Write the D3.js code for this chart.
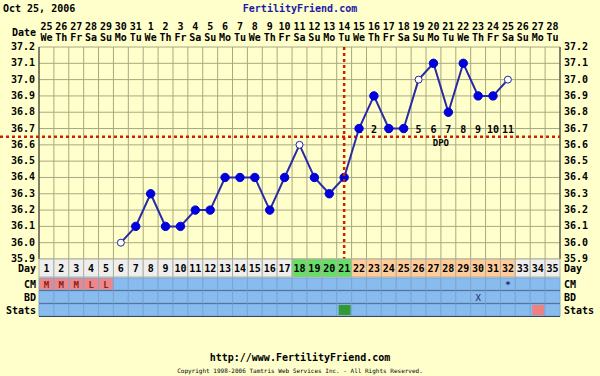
<!DOCTYPE html>
<html>
<head>
<meta charset="utf-8">
<script src="https://cdn.jsdelivr.net/npm/d3@7"></script>
<style>
  body { margin: 0; background: #ffffcc; }
  text { font-family: "DejaVu Sans Mono", monospace; font-weight: bold; }
</style>
</head>
<body>
<div id="chart"></div>
<script>
// chart values
var cycleDays = d3.range(1, 36);
var dateLabels = ["25","26","27","28","29","30","31","1","2","3","4","5","6","7","8","9","10","11","12","13","14","15","16","17","18","19","20","21","22","23","24","25","26","27","28"];
var weekdays = ["We","Th","Fr","Sa","Su","Mo","Tu"];
var tempDays = [6,7,8,9,10,11,12,13,14,15,16,17,18,19,20,21,22,23,24,25,26,27,28,29,30,31,32];
var temps = [36.0,36.1,36.3,36.1,36.1,36.2,36.2,36.4,36.4,36.4,36.2,36.4,36.6,36.4,36.3,36.4,36.7,36.9,36.7,36.7,37.0,37.1,36.8,37.1,36.9,36.9,37.0];
var openDays = [6,18,26,32];
var yTicks = [35.9,36.0,36.1,36.2,36.3,36.4,36.5,36.6,36.7,36.8,36.9,37.0,37.1,37.2];
var coverline = 36.65;
var ovulationDay = 21;
var fertileDays = [18,19,20,21];
var lutealDays = d3.range(22, 33);
var cmValues = {1:"M",2:"M",3:"M",4:"L",5:"L",32:"*"};
var bdValues = {30:"X"};
var statsValues = {21:"#339933",34:"#f08080"};

var width = 600, height = 376;
var plotLeft = 39, plotRight = 560, plotTop = 47, plotBottom = 259;

var svg = d3.select("#chart").append("svg")
    .attr("width", width).attr("height", height)
    .style("background", "#ffffcc");

var x = d3.scaleBand().domain(cycleDays).range([plotLeft, plotRight]);
var y = d3.scaleLinear().domain([35.9, 37.2]).range([plotBottom, plotTop]);
var cx = function(d) { return x(d) + x.bandwidth() / 2; };

// header
svg.append("text").attr("x", 3).attr("y", 12).style("font-size", "10px").attr("fill", "#000")
    .text("Oct 25, 2006");
svg.append("text").attr("x", 300).attr("y", 12).attr("text-anchor", "middle")
    .style("font-size", "10px").attr("fill", "#1a1aa6").text("FertilityFriend.com");

svg.append("text").attr("x", 36).attr("y", 36).attr("text-anchor", "end")
    .style("font-size", "10px").text("Date");
svg.selectAll(".dnum").data(cycleDays).enter().append("text")
    .attr("x", cx).attr("y", 30).attr("text-anchor", "middle").style("font-size", "10px")
    .text(function(d, i) { return dateLabels[i]; });
svg.selectAll(".wday").data(cycleDays).enter().append("text")
    .attr("x", cx).attr("y", 41).attr("text-anchor", "middle").style("font-size", "10px")
    .text(function(d, i) { return weekdays[i % 7]; });

// grid
svg.selectAll(".hg").data(yTicks).enter().append("line")
    .attr("x1", plotLeft).attr("x2", plotRight)
    .attr("y1", function(d) { return y(d); }).attr("y2", function(d) { return y(d); })
    .attr("stroke", "#a8a880").attr("stroke-width", 1);
svg.selectAll(".vg").data(d3.range(0, 36)).enter().append("line")
    .attr("x1", function(d) { return plotLeft + d * x.bandwidth(); })
    .attr("x2", function(d) { return plotLeft + d * x.bandwidth(); })
    .attr("y1", plotTop).attr("y2", plotBottom)
    .attr("stroke", "#a8a880").attr("stroke-width", 1);
svg.append("line").attr("x1", plotLeft).attr("x2", plotLeft).attr("y1", plotTop).attr("y2", plotBottom).attr("stroke", "#333");
svg.append("line").attr("x1", plotRight).attr("x2", plotRight).attr("y1", plotTop).attr("y2", plotBottom).attr("stroke", "#333");

// axis labels
svg.selectAll(".yl").data(yTicks).enter().append("text")
    .attr("x", 35).attr("y", function(d) { return y(d) + 3; })
    .attr("text-anchor", "end").style("font-size", "10px")
    .text(function(d) { return d.toFixed(1); });
svg.selectAll(".yr").data(yTicks).enter().append("text")
    .attr("x", 564).attr("y", function(d) { return y(d) + 3; })
    .style("font-size", "10px")
    .text(function(d) { return d.toFixed(1); });

// coverline
svg.append("line").attr("x1", 0).attr("x2", plotRight)
    .attr("y1", y(coverline)).attr("y2", y(coverline))
    .attr("stroke", "#cc2200").attr("stroke-width", 2.5).attr("stroke-dasharray", "3,3");

// DPO labels
svg.selectAll(".dpo").data(lutealDays).enter().append("text")
    .attr("x", cx).attr("y", y(36.7) + 4).attr("text-anchor", "middle").style("font-size", "10px")
    .text(function(d, i) { return i + 1; });
svg.append("text").attr("x", x(27) + x.bandwidth()).attr("y", y(36.6) + 1)
    .attr("text-anchor", "middle").style("font-size", "9px").text("DPO");

// temperature line
var pts = tempDays.map(function(d, i) { return { day: d, t: temps[i] }; });
var line = d3.line()
    .x(function(d) { return cx(d.day); })
    .y(function(d) { return y(d.t); });
svg.append("path").datum(pts).attr("d", line)
    .attr("fill", "none").attr("stroke", "#2a2aa8").attr("stroke-width", 2);
svg.selectAll(".pt").data(pts).enter().append("circle")
    .attr("cx", function(d) { return cx(d.day); })
    .attr("cy", function(d) { return y(d.t); })
    .attr("r", function(d) { return openDays.indexOf(d.day) >= 0 ? 3.5 : 4.2; })
    .attr("fill", function(d) { return openDays.indexOf(d.day) >= 0 ? "#ffffff" : "#0000dd"; })
    .attr("stroke", function(d) { return openDays.indexOf(d.day) >= 0 ? "#2222aa" : "#0000dd"; })
    .attr("stroke-width", 1);

// ovulation line on top
svg.append("line")
    .attr("x1", cx(ovulationDay)).attr("x2", cx(ovulationDay))
    .attr("y1", plotTop).attr("y2", plotBottom)
    .attr("stroke", "#cc2200").attr("stroke-width", 2.5).attr("stroke-dasharray", "3,3");

// day row
var rowTop = 259, rowH = 18;
function dayColor(d) {
    if (fertileDays.indexOf(d) >= 0) return "#66dd66";
    if (lutealDays.indexOf(d) >= 0) return "#ffcc99";
    return "#eeeeee";
}
svg.selectAll(".dayc").data(cycleDays).enter().append("rect")
    .attr("x", function(d) { return x(d); }).attr("y", rowTop)
    .attr("width", x.bandwidth()).attr("height", rowH)
    .attr("fill", dayColor).attr("stroke", "#b0b0a0").attr("stroke-width", 1);
svg.selectAll(".dayt").data(cycleDays).enter().append("text")
    .attr("x", cx).attr("y", rowTop + 13).attr("text-anchor", "middle").style("font-size", "10px")
    .text(function(d) { return d; });

// CM, BD, Stats rows
var rows = [
    { name: "CM", y: 278 },
    { name: "BD", y: 291 },
    { name: "Stats", y: 304 }
];
rows.forEach(function(r) {
    svg.selectAll(".c" + r.name).data(cycleDays).enter().append("rect")
        .attr("x", function(d) { return x(d); }).attr("y", r.y)
        .attr("width", x.bandwidth()).attr("height", 12)
        .attr("fill", function(d) {
            if (r.name === "CM" && cmValues[d] && cmValues[d] !== "*") return "#ee8888";
            return "#88bbee";
        })
        .attr("stroke", "#7aa6d6").attr("stroke-width", 1);
    svg.append("line").attr("x1", plotLeft).attr("x2", plotRight)
        .attr("y1", r.y + 12.5).attr("y2", r.y + 12.5).attr("stroke", "#334466").attr("stroke-width", 1);
    svg.append("text").attr("x", 36).attr("y", r.y + 10).attr("text-anchor", "end")
        .style("font-size", "10px").text(r.name);
    svg.append("text").attr("x", 564).attr("y", r.y + 10)
        .style("font-size", "10px").text(r.name);
});
svg.append("text").attr("x", 564).attr("y", rowTop + 13).style("font-size", "10px").text("Day");
svg.append("text").attr("x", 36).attr("y", rowTop + 13).attr("text-anchor", "end").style("font-size", "10px").text("Day");

svg.selectAll(".cmt").data(Object.keys(cmValues)).enter().append("text")
    .attr("x", function(d) { return cx(+d); })
    .attr("y", 288).attr("text-anchor", "middle").style("font-size", "9px")
    .attr("fill", function(d) { return cmValues[d] === "*" ? "#222266" : "#882222"; })
    .text(function(d) { return cmValues[d]; });
svg.selectAll(".bdt").data(Object.keys(bdValues)).enter().append("text")
    .attr("x", function(d) { return cx(+d); })
    .attr("y", 301).attr("text-anchor", "middle").style("font-size", "9px")
    .attr("fill", "#222266").style("font-weight", "normal")
    .text(function(d) { return bdValues[d]; });
svg.selectAll(".stt").data(Object.keys(statsValues)).enter().append("rect")
    .attr("x", function(d) { return x(+d) + 2; }).attr("y", 305)
    .attr("width", x.bandwidth() - 3).attr("height", 10)
    .attr("fill", function(d) { return statsValues[d]; });

// footer
svg.append("text").attr("x", 300).attr("y", 361).attr("text-anchor", "middle")
    .style("font-size", "10px").text("http://www.FertilityFriend.com");
svg.append("text").attr("x", 300).attr("y", 373).attr("text-anchor", "middle")
    .style("font-size", "6px").style("font-weight", "normal")
    .text("Copyright 1998-2006 Tamtris Web Services Inc. - All Rights Reserved.");
</script>
</body>
</html>
